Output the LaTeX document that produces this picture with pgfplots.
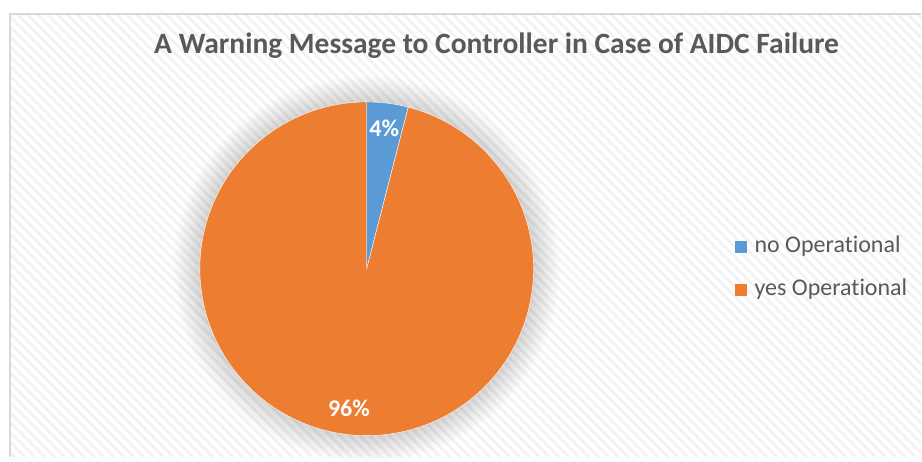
\documentclass[border=0pt]{standalone}
\usepackage{pgfplots}
\usepackage{pgfplotstable}
\pgfplotsset{compat=1.18}
\usetikzlibrary{patterns.meta}
\usepackage{fontspec}
\setmainfont{Carlito}[Ligatures={NoCommon}]
\definecolor{pieblue}{HTML}{5B9BD5}
\definecolor{pieorange}{HTML}{ED7D31}
\definecolor{txtgray}{HTML}{595959}
\definecolor{framegray}{HTML}{D9D9D9}

\pgfplotstableread{
label value
no 4
yes 96
}\piedata

\begin{document}
\begin{tikzpicture}
\pgfplotstablegetelem{0}{value}\of\piedata \let\va\pgfplotsretval
\pgfplotstablegetelem{1}{value}\of\piedata \let\vb\pgfplotsretval
\pgfmathsetmacro{\aone}{90-3.6*\va}
\pgfmathsetmacro{\atwo}{\aone-3.6*\vb}
\pgfmathsetmacro{\mone}{(90+\aone)/2}
\pgfmathsetmacro{\mtwo}{(\aone+\atwo)/2}
% background
\fill[white] (0,0) rectangle (922bp,457bp);
\fill[pattern={Lines[angle=-45,distance=7bp,line width=2.5bp]}, pattern color=black!5] (10bp,0) rectangle (922bp,443bp);
\draw[framegray, line width=1.5bp] (10bp,0) -- (10bp,443bp) -- (922bp,443bp);
% soft shadow
\foreach \r in {169,171,...,193}{
  \fill[black, opacity=0.012] (367bp,188bp) circle[radius=\r bp];
}
\begin{axis}[
  x=1bp, y=1bp,
  xmin=0, xmax=922, ymin=0, ymax=457,
  hide axis, clip=false,
  legend style={at={(axis cs:735,188)}, anchor=west, draw=none, fill=none,
    font=\fontsize{24bp}{28bp}\selectfont, text=txtgray,
    inner sep=0pt, row sep=22bp,
    nodes={inner sep=0pt, text height=16bp, text depth=5bp, anchor=west}},
  legend cell align=left,
  /tikz/every even column/.append style={column sep=0bp},
  legend image code/.code={\fill[#1,draw=none] (0bp,-6bp) rectangle (12bp,6bp);},
]
\addplot[fill=pieblue, draw=white, line width=0.4bp, domain=\aone:90, samples=20, variable=\t]
  ({367+167*cos(t)},{188+167*sin(t)}) -- (axis cs:367,188) -- cycle;
\addlegendentry{\hspace{8bp}no Operational}
\addplot[fill=pieorange, draw=white, line width=0.4bp, domain=\atwo:\aone, samples=240, variable=\t]
  ({367+167*cos(t)},{188+167*sin(t)}) -- (axis cs:367,188) -- cycle;
\addlegendentry{\hspace{8bp}yes Operational}
\node[anchor=base, text=white, font=\bfseries\fontsize{24bp}{28bp}\selectfont]
  at (axis cs:{367+140*cos(\mone)},{188+140*sin(\mone)-7}) {\va\%};
\node[anchor=base, text=white, font=\bfseries\fontsize{24bp}{28bp}\selectfont]
  at (axis cs:{367+142*cos(\mtwo)},{188+142*sin(\mtwo)-7}) {\vb\%};
\node[anchor=base, text=txtgray, font=\bfseries\fontsize{29.5bp}{34bp}\selectfont]
  at (axis cs:497,403) {A Warning Message to Controller in Case of AIDC Failure};
\end{axis}
\end{tikzpicture}
\end{document}
